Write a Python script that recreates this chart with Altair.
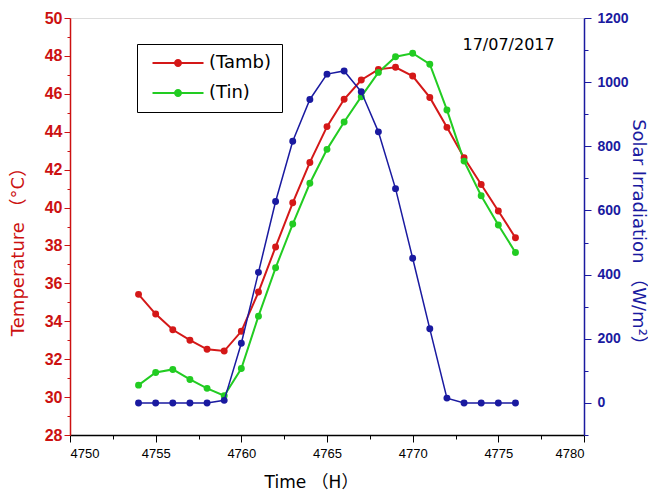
import altair as alt
import pandas as pd

hours = list(range(4754, 4777))
tamb = [35.42, 34.38, 33.55, 33.00, 32.52, 32.43, 33.47, 35.54, 37.92, 40.25, 42.38,
        44.27, 45.71, 46.73, 47.29, 47.40, 46.94, 45.81, 44.23, 42.63, 41.22, 39.82, 38.41]
tin = [30.63, 31.30, 31.46, 30.93, 30.46, 30.07, 31.51, 34.27, 36.82, 39.13, 41.28,
       43.07, 44.51, 45.85, 47.13, 47.96, 48.14, 47.56, 45.15, 42.45, 40.62, 39.08, 37.63]
solar = [0, 0, 0, 0, 0, 8, 186, 407, 628, 816, 946,
         1025, 1035, 970, 845, 668, 451, 231, 15, 0, 0, 0, 0]
series_names = ["(Tamb)", "(Tin)"]
series_colors = ["#d41818", "#22cc22"]
date_label = ["17/07/2017"]
date_hour = [4775.6]
date_temp = [48.57]

RED = "#cc1111"
BLUE = "#1a1aa0"
TITLE_FONT = "DejaVu Sans, Noto Sans CJK SC"
NUM_FONT = "Liberation Sans"

names_long = [series_names[0]] * len(hours) + [series_names[1]] * len(hours)
temp_df = pd.DataFrame({
    "hour": hours * 2,
    "series": names_long,
    "value": tamb + tin,
})
solar_df = pd.DataFrame({"hour": hours, "solar": solar})
date_df = pd.DataFrame({"hour": date_hour, "value": date_temp, "label": date_label})

x_enc = alt.X(
    "hour:Q",
    scale=alt.Scale(domain=[4750, 4780], nice=False, zero=False),
    axis=alt.Axis(
        title="Time （H）",
        values=[4750 + 2.5 * i for i in range(13)],
        labelExpr="datum.value % 5 === 0 ? datum.label : ''",
        format="d",
        tickSize={"condition": {"test": "datum.value % 5 === 0", "value": 7}, "value": 4},
        tickColor="black",
        domainColor="black",
        domainWidth=1.5,
        labelFont=NUM_FONT,
        labelFontSize=13,
        labelColor="black",
        labelPadding=5,
        grid=False,
        titleFont=TITLE_FONT,
        titleFontSize=17,
        titleFontWeight="normal",
        titleColor="black",
        titleX=241,
        titleY=47,
        titleBaseline="middle",
    ),
)

y_temp = alt.Y(
    "value:Q",
    scale=alt.Scale(domain=[28, 50], nice=False, zero=False),
    axis=alt.Axis(
        title="Temperature （°C）",
        values=list(range(28, 51)),
        labelExpr="datum.value % 2 === 0 ? datum.label : ''",
        tickSize={"condition": {"test": "datum.value % 2 === 0", "value": 6}, "value": 3},
        tickColor=RED,
        domainColor=RED,
        domainWidth=1.5,
        labelFont=NUM_FONT,
        labelFontSize=16,
        labelFontWeight="bold",
        labelColor=RED,
        labelPadding=2,
        grid=False,
        titleFont=TITLE_FONT,
        titleFontSize=18,
        titleFontWeight="normal",
        titleColor=RED,
        titleAngle=-90,
        titleX=-52,
        titleY=229,
        titleBaseline="middle",
        titleAlign="center",
    ),
)

color_scale = alt.Scale(domain=series_names, range=series_colors)

legend_path = ("M-0.41,-0.118H5.59V0.118H-0.41Z "
               "M3.06,0A0.47,0.47 0 1,1 2.12,0A0.47,0.47 0 1,1 3.06,0Z")

color_enc = alt.Color(
    "series:N", scale=color_scale,
    legend=alt.Legend(
        title=None,
        orient="none",
        legendX=67,
        legendY=26,
        strokeColor="black",
        padding=10,
        symbolType=legend_path,
        symbolSize=289,
        symbolStrokeWidth=0,
        labelOffset=44,
        labelFont=TITLE_FONT,
        labelFontSize=18,
        labelColor="black",
        rowPadding=12,
    ),
)

temp_lines = alt.Chart(temp_df).mark_line(
    strokeWidth=2,
    point=alt.OverlayMarkDef(filled=True, size=48, opacity=1),
).encode(x=x_enc, y=y_temp, color=color_enc)

date_text = alt.Chart(date_df).mark_text(
    font=TITLE_FONT, fontSize=16, color="black", baseline="middle", align="center"
).encode(x=x_enc, y=y_temp, text="label:N")

temps = alt.layer(temp_lines, date_text)

solar_chart = alt.Chart(solar_df).mark_line(
    color=BLUE, strokeWidth=1.5,
    point=alt.OverlayMarkDef(filled=True, size=48, color=BLUE, opacity=1),
).encode(
    x=x_enc,
    y=alt.Y(
        "solar:Q",
        scale=alt.Scale(domain=[-100, 1200], nice=False, zero=False),
        axis=alt.Axis(
            orient="right",
            title="Solar Irradiation （W/m²）",
            values=list(range(-100, 1201, 100)),
            format="d",
            labelExpr="datum.value % 200 === 0 && datum.value >= 0 ? datum.label : ''",
            tickSize={"condition": {"test": "datum.value % 200 === 0", "value": 7}, "value": 4},
            tickColor=BLUE,
            domainColor=BLUE,
            domainWidth=1.5,
            labelFont=NUM_FONT,
            labelFontSize=14,
            labelFontWeight="bold",
            labelColor=BLUE,
            labelPadding=6,
            grid=False,
            titleFont=TITLE_FONT,
            titleFontSize=18,
            titleFontWeight="normal",
            titleColor=BLUE,
            titleAngle=90,
            titleX=53,
            titleY=218,
            titleBaseline="middle",
            titleAlign="center",
        ),
    ),
)

chart = alt.layer(temps, solar_chart).resolve_scale(y="independent").properties(
    width=514,
    height=417,
    autosize=alt.AutoSizeParams(type="none"),
    padding={"left": 62, "top": 10, "right": 64, "bottom": 58},
).configure_view(stroke="black", strokeWidth=1.5).configure(background="white")

chart.save("out.html", embed_options={"renderer": "svg", "actions": False})
